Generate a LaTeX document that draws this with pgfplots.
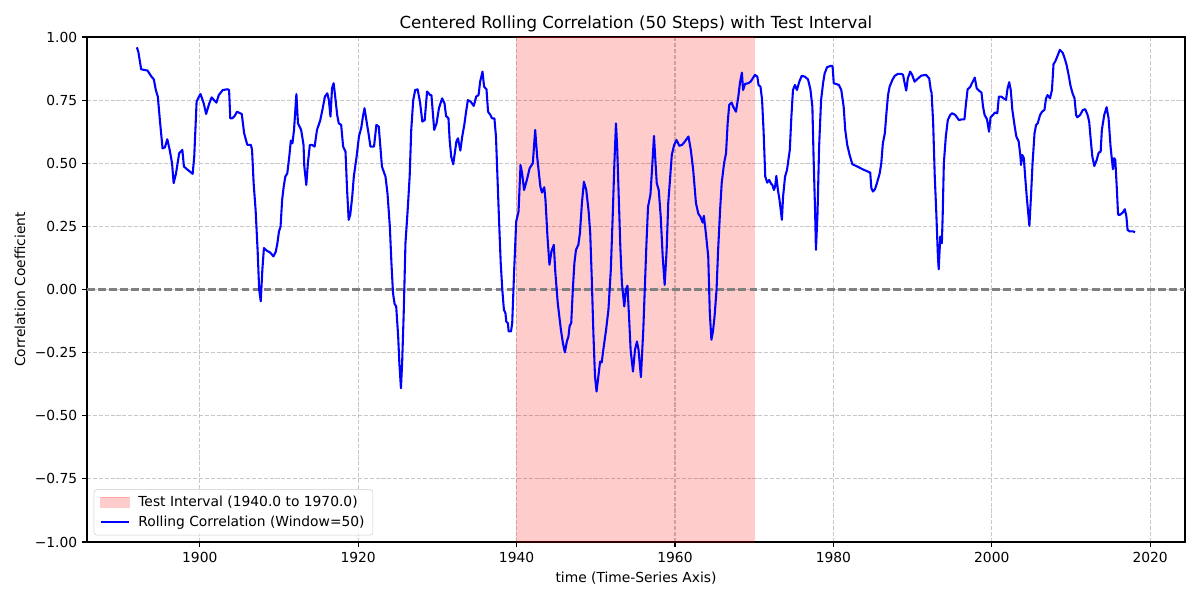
\documentclass[border=0pt]{standalone}
\usepackage{fontspec}
\setmainfont{DejaVu Sans}
\usepackage{pgfplots}
\pgfplotsset{compat=1.18}
\definecolor{gridgray}{RGB}{176,176,176}
\definecolor{legedge}{RGB}{204,204,204}
\pgfplotsset{
  lineleg/.style={legend image code/.code={\draw[##1] (0bp,0bp) -- (20.5bp,0bp);}},
  spanleg/.style={legend image code/.code={\filldraw[##1, sharp corners] (0bp,-3.6bp) rectangle (20.5bp,3.6bp);}},
}
\begin{document}
\begin{tikzpicture}
\begin{axis}[
  scale only axis,
  width=790.56bp, height=363.6bp,
  xmin=1885.76, xmax=2024.4,
  ymin=-1, ymax=1,
  xtick={1900,1920,1940,1960,1980,2000,2020},
  ytick={-1,-0.75,-0.5,-0.25,0,0.25,0.5,0.75,1},
  yticklabels={−1.00,−0.75,−0.50,−0.25,0.00,0.25,0.50,0.75,1.00},
  xticklabel style={/pgf/number format/1000 sep={}},
  /pgf/number format/assume math mode=true,
  tick label style={font=\fontsize{10}{12}\selectfont},
  label style={font=\fontsize{10}{12}\selectfont},
  tick align=outside,
  xtick pos=bottom, ytick pos=left,
  major tick length=3.5bp,
  every tick/.style={black, line width=0.8bp},
  axis line style={line width=0.8bp},
  grid=major,
  major grid style={gridgray, opacity=0.7, line width=0.8bp, dash pattern=on 2.96bp off 1.28bp},
  title={Centered Rolling Correlation (50 Steps) with Test Interval},
  title style={font=\fontsize{12}{14.4}\selectfont, yshift=-6bp},
  xlabel={time (Time-Series Axis)},
  ylabel={Correlation Coefficient},
  legend cell align=left,
  legend style={at={(0,0)}, anchor=south west, xshift=5bp, yshift=5bp, outer sep=0pt,
    draw=legedge, rounded corners=2pt, fill=white, fill opacity=0.8, text opacity=1,
    inner xsep=4bp, inner ysep=2.7bp, row sep=1.2bp,
    /tikz/every odd column/.append style={column sep=4bp},
    font=\fontsize{10}{12}\selectfont},
]
\addplot[fill=red, fill opacity=0.2, draw=red, draw opacity=0.2, spanleg]
  coordinates {(1940,-1) (1940,1) (1970,1) (1970,-1)} -- cycle;
\addlegendentry{Test Interval (1940.0 to 1970.0)}

\addplot[forget plot, color={rgb,255:red,128;green,128;blue,128}, line width=1.5bp, dash pattern=on 5.55bp off 2.4bp]
  coordinates {(1885.76,0) (2024.4,0)};

\addplot[blue, line width=1.5bp, line join=round, lineleg] coordinates {
(1892.06,0.959)(1892.25,0.94)(1892.6,0.872)(1893.4,0.867)(1893.9,0.843)(1894.2,0.832)
(1894.45,0.79)(1894.7,0.764)(1895.0,0.658)(1895.3,0.559)(1895.6,0.563)(1895.9,0.595)
(1896.2,0.553)(1896.5,0.5)(1896.7,0.421)(1897.0,0.46)(1897.4,0.54)(1897.8,0.553)
(1898.0,0.487)(1898.4,0.476)(1898.6,0.471)(1899.1,0.458)(1899.3,0.526)(1899.6,0.744)
(1899.9,0.764)(1900.1,0.774)(1900.5,0.737)(1900.8,0.695)(1901.2,0.737)(1901.5,0.761)
(1901.8,0.75)(1902.1,0.74)(1902.4,0.770)(1902.9,0.79)(1903.5,0.793)(1903.7,0.79)
(1903.85,0.678)(1904.1,0.678)(1904.4,0.687)(1904.7,0.704)(1905.3,0.695)(1905.6,0.619)
(1906.0,0.573)(1906.45,0.573)(1906.6,0.553)(1906.8,0.421)(1907.05,0.315)(1907.3,0.157)
(1907.5,-0.001)(1907.7,-0.047)(1907.9,0.078)(1908.1,0.164)(1908.45,0.154)(1908.9,0.146)
(1909.3,0.131)(1909.6,0.150)(1909.8,0.183)(1910.0,0.23)(1910.2,0.249)(1910.4,0.355)
(1910.6,0.408)(1910.8,0.447)(1911.05,0.46)(1911.3,0.526)(1911.5,0.59)(1911.7,0.579)
(1911.9,0.632)(1912.2,0.774)(1912.4,0.658)(1912.8,0.632)(1913.1,0.573)(1913.2,0.487)
(1913.45,0.414)(1913.65,0.5)(1913.9,0.573)(1914.15,0.573)(1914.5,0.566)(1914.8,0.632)
(1915.2,0.669)(1915.5,0.714)(1915.8,0.764)(1916.1,0.777)(1916.3,0.75)(1916.5,0.685)
(1916.7,0.797)(1916.9,0.817)(1917.1,0.764)(1917.35,0.691)(1917.55,0.658)(1917.85,0.652)
(1918.1,0.566)(1918.4,0.546)(1918.6,0.394)(1918.8,0.276)(1919.0,0.296)(1919.25,0.368)
(1919.45,0.447)(1919.8,0.526)(1920.1,0.606)(1920.4,0.642)(1920.6,0.685)(1920.8,0.718)
(1921.1,0.658)(1921.3,0.619)(1921.55,0.566)(1922.0,0.566)(1922.3,0.652)(1922.6,0.645)
(1922.8,0.566)(1923.0,0.487)(1923.45,0.447)(1923.7,0.381)(1924.0,0.249)(1924.2,0.104)
(1924.4,-0.015)(1924.6,-0.057)(1924.8,-0.067)(1925.05,-0.186)(1925.2,-0.292)(1925.4,-0.391)
(1925.55,-0.292)(1925.75,-0.094)(1925.97,0.183)(1926.25,0.315)(1926.5,0.447)(1926.7,0.632)
(1926.95,0.75)(1927.2,0.790)(1927.5,0.793)(1927.8,0.744)(1928.1,0.665)(1928.4,0.671)
(1928.7,0.784)(1929.1,0.770)(1929.25,0.77)(1929.6,0.632)(1929.9,0.658)(1930.2,0.718)
(1930.6,0.757)(1930.9,0.737)(1931.1,0.687)(1931.4,0.678)(1931.55,0.592)(1931.75,0.526)
(1932.0,0.496)(1932.2,0.540)(1932.4,0.586)(1932.6,0.599)(1932.9,0.550)(1933.15,0.608)
(1933.4,0.652)(1933.6,0.698)(1933.85,0.75)(1934.2,0.744)(1934.6,0.727)(1934.9,0.764)
(1935.2,0.770)(1935.4,0.823)(1935.7,0.863)(1935.9,0.803)(1936.2,0.793)(1936.4,0.704)
(1936.7,0.691)(1936.9,0.678)(1937.2,0.678)(1937.4,0.606)(1937.6,0.434)(1937.8,0.263)
(1938.0,0.104)(1938.2,-0.001)(1938.4,-0.080)(1938.6,-0.094)(1938.7,-0.127)(1938.9,-0.133)
(1939.0,-0.166)(1939.3,-0.166)(1939.45,-0.133)(1939.7,0.078)(1939.95,0.269)(1940.25,0.309)
(1940.5,0.493)(1940.7,0.46)(1940.95,0.394)(1941.3,0.434)(1941.65,0.480)(1942.05,0.5)
(1942.35,0.632)(1942.6,0.526)(1943.0,0.408)(1943.2,0.384)(1943.5,0.405)(1943.65,0.355)
(1943.9,0.210)(1944.15,0.098)(1944.4,0.150)(1944.7,0.177)(1944.9,0.065)(1945.2,-0.054)
(1945.4,-0.107)(1945.6,-0.160)(1945.85,-0.212)(1946.1,-0.249)(1946.35,-0.206)(1946.55,-0.186)
(1946.7,-0.144)(1946.9,-0.133)(1947.1,-0.001)(1947.3,0.104)(1947.5,0.157)(1947.8,0.177)
(1948.0,0.223)(1948.25,0.342)(1948.5,0.427)(1948.8,0.394)(1949.1,0.309)(1949.3,0.223)
(1949.5,0.038)(1949.7,-0.173)(1949.9,-0.344)(1950.1,-0.404)(1950.35,-0.338)(1950.55,-0.285)
(1950.75,-0.289)(1950.95,-0.239)(1951.3,-0.160)(1951.6,-0.080)(1951.9,0.078)(1952.15,0.302)
(1952.35,0.5)(1952.55,0.658)(1952.7,0.566)(1952.9,0.368)(1953.1,0.170)(1953.3,0.025)
(1953.6,-0.067)(1953.8,-0.001)(1954.0,0.015)(1954.2,-0.107)(1954.4,-0.239)(1954.7,-0.325)
(1954.95,-0.239)(1955.2,-0.206)(1955.4,-0.239)(1955.7,-0.347)(1956.0,-0.160)(1956.2,0.012)
(1956.4,0.183)(1956.6,0.328)(1956.9,0.375)(1957.1,0.474)(1957.35,0.608)(1957.5,0.526)
(1957.7,0.421)(1957.95,0.394)(1958.2,0.289)(1958.45,0.131)(1958.7,0.018)(1958.95,0.157)
(1959.15,0.342)(1959.4,0.447)(1959.6,0.533)(1959.9,0.573)(1960.2,0.592)(1960.55,0.569)
(1960.9,0.573)(1961.25,0.586)(1961.7,0.606)(1962.0,0.553)(1962.3,0.474)(1962.65,0.342)
(1962.95,0.3)(1963.2,0.289)(1963.5,0.265)(1963.65,0.292)(1963.9,0.223)(1964.2,0.131)
(1964.4,-0.094)(1964.6,-0.199)(1964.8,-0.166)(1965.0,-0.107)(1965.25,-0.001)(1965.45,0.157)
(1965.7,0.315)(1965.9,0.421)(1966.2,0.5)(1966.45,0.540)(1966.65,0.658)(1966.85,0.731)
(1967.15,0.740)(1967.35,0.724)(1967.7,0.704)(1968.0,0.764)(1968.2,0.817)(1968.45,0.859)
(1968.6,0.790)(1968.85,0.814)(1969.25,0.817)(1969.55,0.823)(1969.9,0.840)(1970.1,0.850)
(1970.4,0.843)(1970.55,0.810)(1970.8,0.803)(1971.0,0.751)(1971.2,0.619)(1971.4,0.447)
(1971.65,0.423)(1971.9,0.434)(1972.15,0.418)(1972.3,0.414)(1972.5,0.394)(1972.65,0.408)
(1972.8,0.450)(1973.0,0.394)(1973.2,0.355)(1973.5,0.276)(1973.65,0.368)(1973.9,0.447)
(1974.15,0.474)(1974.5,0.553)(1974.7,0.685)(1974.9,0.790)(1975.15,0.810)(1975.4,0.790)
(1975.7,0.823)(1976.0,0.846)(1976.4,0.843)(1976.8,0.832)(1977.1,0.793)(1977.35,0.724)
(1977.5,0.526)(1977.7,0.302)(1977.8,0.157)(1978.0,0.302)(1978.2,0.566)(1978.45,0.75)
(1978.7,0.817)(1978.9,0.856)(1979.2,0.880)(1979.6,0.885)(1979.9,0.885)(1980.05,0.817)
(1980.7,0.810)(1981.0,0.790)(1981.3,0.724)(1981.5,0.632)(1981.75,0.573)(1982.05,0.533)
(1982.4,0.496)(1982.9,0.489)(1983.7,0.476)(1984.65,0.463)(1984.8,0.401)(1985.0,0.388)
(1985.25,0.397)(1985.5,0.421)(1985.85,0.460)(1986.05,0.5)(1986.25,0.579)(1986.5,0.619)
(1986.7,0.698)(1986.9,0.770)(1987.1,0.803)(1987.45,0.830)(1987.75,0.846)(1988.15,0.854)
(1988.6,0.854)(1988.8,0.850)(1989.0,0.817)(1989.2,0.788)(1989.4,0.836)(1989.7,0.863)
(1989.95,0.850)(1990.25,0.823)(1990.55,0.832)(1991.1,0.847)(1991.7,0.850)(1992.1,0.836)
(1992.3,0.790)(1992.4,0.78)(1992.6,0.66)(1992.8,0.45)(1993.0,0.302)(1993.2,0.131)
(1993.3,0.080)(1993.5,0.210)(1993.7,0.183)(1993.8,0.289)(1993.95,0.5)(1994.2,0.606)
(1994.45,0.671)(1994.75,0.691)(1995.0,0.698)(1995.4,0.691)(1995.85,0.671)(1996.25,0.674)
(1996.55,0.674)(1996.75,0.737)(1996.95,0.793)(1997.25,0.801)(1997.5,0.817)(1997.85,0.839)
(1998.1,0.797)(1998.45,0.786)(1998.7,0.780)(1998.9,0.724)(1999.1,0.691)(1999.4,0.674)
(1999.65,0.625)(1999.85,0.682)(2000.15,0.691)(2000.4,0.701)(2000.7,0.698)(2000.9,0.764)
(2001.2,0.764)(2001.5,0.757)(2001.8,0.751)(2002.0,0.797)(2002.2,0.821)(2002.4,0.790)
(2002.6,0.711)(2002.9,0.645)(2003.1,0.606)(2003.4,0.586)(2003.6,0.533)(2003.7,0.493)
(2003.85,0.533)(2004.05,0.520)(2004.25,0.434)(2004.45,0.355)(2004.75,0.252)(2004.95,0.368)
(2005.15,0.5)(2005.4,0.619)(2005.6,0.652)(2005.8,0.658)(2006.1,0.691)(2006.35,0.704)
(2006.65,0.711)(2006.85,0.757)(2007.05,0.770)(2007.35,0.757)(2007.6,0.790)(2007.8,0.893)
(2008.0,0.902)(2008.3,0.925)(2008.6,0.949)(2008.95,0.938)(2009.2,0.916)(2009.45,0.889)
(2009.7,0.850)(2009.95,0.806)(2010.2,0.777)(2010.45,0.757)(2010.65,0.691)(2010.8,0.682)
(2011.15,0.691)(2011.5,0.711)(2011.8,0.714)(2012.1,0.691)(2012.3,0.665)(2012.5,0.592)
(2012.7,0.526)(2012.95,0.489)(2013.25,0.513)(2013.5,0.542)(2013.75,0.546)(2013.9,0.632)
(2014.2,0.691)(2014.5,0.722)(2014.75,0.678)(2015.0,0.566)(2015.3,0.476)(2015.45,0.520)
(2015.6,0.513)(2015.8,0.394)(2015.95,0.296)(2016.2,0.296)(2016.55,0.305)(2016.8,0.318)
(2017.0,0.289)(2017.15,0.236)(2017.4,0.230)(2017.85,0.230)(2018.1,0.227)
};
\addlegendentry{Rolling Correlation (Window=50)}

\coordinate (sw) at (rel axis cs:0,0);
\coordinate (ne) at (rel axis cs:1,1);
\end{axis}
\pgfresetboundingbox
\path[use as bounding box] ([shift={(-62.64bp,-41.76bp)}]sw) rectangle ([shift={(10.8bp,26.64bp)}]ne);
\end{tikzpicture}
\end{document}
